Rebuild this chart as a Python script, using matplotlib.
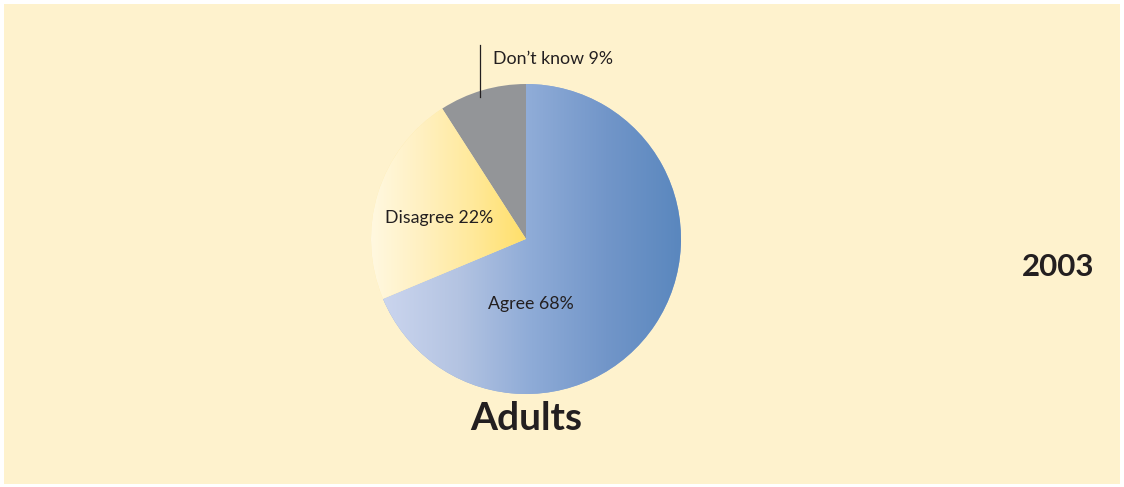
import numpy as np
import matplotlib.pyplot as plt
from matplotlib.colors import LinearSegmentedColormap
from matplotlib.patches import Rectangle

labels = ['Agree', 'Disagree', "Don\u2019t know"]
shares = [68, 22, 9]
title = 'Adults'
year = '2003'

W, H = 1124, 487
CX, CY, R = 526, 248, 155

fig = plt.figure(figsize=(W / 100, H / 100), dpi=100)
fig.patch.set_facecolor('white')
ax = fig.add_axes([0, 0, 1, 1])
ax.set_xlim(0, W)
ax.set_ylim(0, H)
ax.set_aspect('equal')
ax.axis('off')

# cream panel
ax.add_patch(Rectangle((4, 3), W - 8, H - 7, facecolor='#FEF2CD',
                       edgecolor='none', zorder=0))

wedges, _ = ax.pie(shares, center=(CX, CY), radius=R, startangle=90,
                   counterclock=False, frame=True,
                   colors=['#8EABD7', '#FFEBA8', '#939598'],
                   wedgeprops=dict(linewidth=0))
ax.set_xlim(0, W)
ax.set_ylim(0, H)
ax.axis('off')

# horizontal gradient fills clipped to the wedges
grads = [
    ['#CBD5EE', '#B4C4E2', '#8EABD7', '#7296C9', '#5A87BE'],
    ['#FFF8E0', '#FFF0C0', '#FFE99A', '#FFDF6A'],
]
for w, cols in zip(wedges[:2], grads):
    bb = w.get_path().get_extents(w.get_transform())
    inv = ax.transData.inverted()
    (x0, y0), (x1, y1) = inv.transform([[bb.x0, bb.y0], [bb.x1, bb.y1]])
    cmap = LinearSegmentedColormap.from_list('g', cols)
    img = ax.imshow(np.linspace(0, 1, 256)[None, :], cmap=cmap,
                    extent=(x0, x1, y0, y1), aspect='auto',
                    interpolation='bilinear', zorder=2)
    img.set_clip_path(w)

wedges[2].set_zorder(2)

lab_font = dict(family=['Lato', 'DejaVu Sans'], color='#231F20',
                fontsize=12.8)
ax.text(531, H - 304, f'{labels[0]} {shares[0]}%', ha='center',
        va='center', zorder=5, **lab_font)
ax.text(439, H - 218, f'{labels[1]} {shares[1]}%', ha='center',
        va='center', zorder=5, **lab_font)
ax.text(493, H - 59, f'{labels[2]} {shares[2]}%', ha='left',
        va='center', zorder=5, **lab_font)
ax.plot([480, 480], [H - 45, H - 97], color='#231F20', lw=0.9, zorder=5)

ax.text(526, H - 418, title, ha='center', va='center', fontsize=28,
        fontweight='bold', family=['Lato', 'DejaVu Sans'], color='#231F20')
ax.text(1058, H - 267, year, ha='center', va='center', fontsize=22.5,
        fontweight='bold', family=['Lato', 'DejaVu Sans'], color='#231F20')

fig.savefig('out.png', dpi=100, facecolor=fig.get_facecolor())
